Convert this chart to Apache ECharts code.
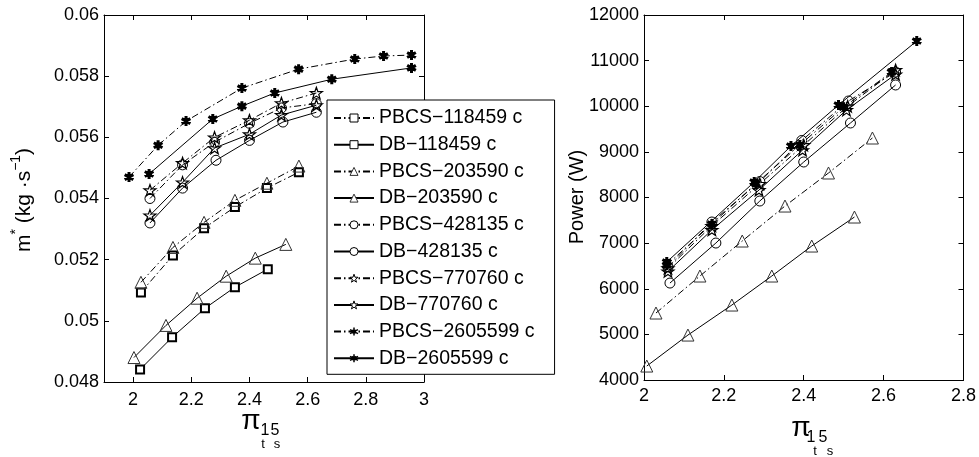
<!DOCTYPE html>
<html>
<head>
<meta charset="utf-8">
<script src="https://cdn.jsdelivr.net/npm/echarts@6/dist/echarts.min.js"></script>
<style>
  html, body { margin: 0; padding: 0; background: #fff; }
  #chart { width: 979px; height: 457px; }
</style>
</head>
<body>
<div id="chart"></div>
<script>
// series names (legend)
var names = ['PBCS\u2212118459 c', 'DB\u2212118459 c', 'PBCS\u2212203590 c', 'DB\u2212203590 c',
             'PBCS\u2212428135 c', 'DB\u2212428135 c', 'PBCS\u2212770760 c', 'DB\u2212770760 c',
             'PBCS\u22122605599 c', 'DB\u22122605599 c'];

// left panel: [pi_ts, m* (kg/s)]
var mPBCS118459 = [[2.027, 0.05093], [2.137, 0.05214], [2.244, 0.05303], [2.35, 0.05372], [2.46, 0.05434], [2.57, 0.05486]];
var mDB118459 = [[2.024, 0.04841], [2.134, 0.04946], [2.247, 0.05041], [2.35, 0.0511], [2.463, 0.05169]];
var mPBCS203590 = [[2.027, 0.05126], [2.137, 0.0524], [2.244, 0.05322], [2.35, 0.05394], [2.46, 0.0545], [2.57, 0.05506]];
var mDB203590 = [[2.003, 0.0488], [2.113, 0.04985], [2.22, 0.05074], [2.32, 0.05146], [2.42, 0.05205], [2.525, 0.0525]];
var mPBCS428135 = [[2.058, 0.0540], [2.17, 0.0551], [2.28, 0.05584], [2.40, 0.05646], [2.51, 0.05696], [2.63, 0.0571]];
var mDB428135 = [[2.058, 0.0532], [2.17, 0.05434], [2.285, 0.05525], [2.40, 0.0559], [2.515, 0.0565], [2.63, 0.05682]];
var mPBCS770760 = [[2.058, 0.05427], [2.17, 0.05516], [2.28, 0.0560], [2.40, 0.05656], [2.51, 0.05712], [2.63, 0.05745]];
var mDB770760 = [[2.058, 0.05345], [2.17, 0.05453], [2.28, 0.05565], [2.40, 0.0561], [2.51, 0.05673], [2.63, 0.05705]];
var mPBCS2605599 = [[1.986, 0.0547], [2.086, 0.05574], [2.182, 0.05653], [2.374, 0.05761], [2.569, 0.05823], [2.762, 0.05856], [2.861, 0.05866], [2.957, 0.05869]];
var mDB2605599 = [[2.055, 0.0548], [2.274, 0.0566], [2.374, 0.05702], [2.487, 0.05745], [2.683, 0.0579], [2.957, 0.05827]];

// right panel: [pi_ts, power (W)]
var pPBCS203590 = [[2.03, 5468], [2.14, 6279], [2.246, 7046], [2.353, 7813], [2.462, 8537], [2.572, 9304]];
var pDB203590 = [[2.007, 4306], [2.11, 4985], [2.22, 5643], [2.32, 6279], [2.42, 6936], [2.527, 7572]];
var pPBCS428135 = [[2.06, 6480], [2.17, 7463], [2.29, 8350], [2.395, 9250], [2.512, 10115], [2.63, 10750]];
var pDB428135 = [[2.065, 6125], [2.18, 7002], [2.29, 7923], [2.40, 8778], [2.517, 9633], [2.63, 10466]];
var pPBCS770760 = [[2.06, 6450], [2.17, 7380], [2.29, 8300], [2.40, 9150], [2.51, 10000], [2.63, 10795]];
var pDB770760 = [[2.06, 6380], [2.17, 7290], [2.288, 8164], [2.397, 9040], [2.507, 9918], [2.63, 10700]];
var pPBCS2605599 = [[2.057, 6520], [2.17, 7420], [2.28, 8300], [2.39, 9150], [2.50, 9980], [2.62, 10750]];
var pDB2605599 = [[2.057, 6586], [2.276, 8339], [2.368, 9128], [2.487, 10027], [2.683, 11430]];

// tick labels
var leftXTicks = [2, 2.2, 2.4, 2.6, 2.8, 3];
var rightXTicks = [2, 2.2, 2.4, 2.6, 2.8];

var DASHDOT = [7, 3, 1.5, 3];
var STAR = 'path://M0,-10L2.35,-3.24L9.51,-3.09L3.8,1.24L5.88,8.09L0,4L-5.88,8.09L-3.8,1.24L-9.51,-3.09L-2.35,-3.24Z';
var ASTER = 'path://M0,-10L0,10M-8.66,-5L8.66,5M-8.66,5L8.66,-5M-3,-3L3,-3L3,3L-3,3Z';

var styles = {
    square:   { symbol: 'rect', symbolSize: 8, itemStyle: { color: '#fff', borderColor: '#000', borderWidth: 2 } },
    triangle: { symbol: 'triangle', symbolSize: 12, itemStyle: { color: 'rgba(255,255,255,0)', borderColor: '#333', borderWidth: 1 } },
    circle:   { symbol: 'circle', symbolSize: 10, itemStyle: { color: 'rgba(255,255,255,0)', borderColor: '#000', borderWidth: 1 } },
    star:     { symbol: STAR, symbolSize: 12, itemStyle: { color: 'rgba(255,255,255,0)', borderColor: '#000', borderWidth: 1.2 } },
    aster:    { symbol: ASTER, symbolSize: 10, itemStyle: { color: '#000', borderColor: '#000', borderWidth: 3 } }
};
var legendMarks = ['square', 'square', 'triangle', 'triangle', 'circle', 'circle', 'star', 'star', 'aster', 'aster'];

function mk(name, data, mark, dash, grid) {
    var s = styles[mark];
    return {
        name: name, type: 'line', data: data,
        xAxisIndex: grid, yAxisIndex: grid,
        symbol: s.symbol, symbolSize: s.symbolSize, symbolKeepAspect: true,
        itemStyle: s.itemStyle,
        lineStyle: { color: '#000', width: 1, type: dash ? DASHDOT : 'solid' },
        emphasis: { disabled: true },
        animation: false
    };
}

var tickFont = { fontFamily: 'Liberation Sans', fontSize: 18, color: '#000' };

function mainX(grid, min, max, ticks, margin) {
    return {
        type: 'value', gridIndex: grid, min: min, max: max, position: 'bottom',
        axisLine: { onZero: false, lineStyle: { color: '#000', width: 1 } },
        axisTick: { inside: true, length: 5, customValues: ticks, lineStyle: { color: '#000' } },
        axisLabel: Object.assign({ customValues: ticks, margin: margin, formatter: function (v) { return String(+v.toFixed(1)); } }, tickFont),
        splitLine: { show: false }
    };
}
function topX(grid, min, max, ticks) {
    return {
        type: 'value', gridIndex: grid, min: min, max: max, position: 'top',
        axisLine: { onZero: false, lineStyle: { color: '#000', width: 1 } },
        axisTick: { inside: true, length: 5, customValues: ticks, lineStyle: { color: '#000' } },
        axisLabel: { show: false }, splitLine: { show: false }
    };
}
function yAx(grid, min, max, interval, pos, showLabel, fmt) {
    return {
        type: 'value', gridIndex: grid, min: min, max: max, interval: interval, position: pos,
        axisLine: { show: true, onZero: false, lineStyle: { color: '#000', width: 1 } },
        axisTick: { show: true, inside: true, length: 5, lineStyle: { color: '#000' } },
        axisLabel: Object.assign({ show: showLabel, margin: 5, formatter: fmt }, tickFont),
        splitLine: { show: false }
    };
}
var mFmt = function (v) { return String(+v.toFixed(3)); };
var pFmt = function (v) { return String(Math.round(v)); };

var series = [
    mk(names[0], mPBCS118459, 'square', true, 0),
    mk(names[1], mDB118459, 'square', false, 0),
    mk(names[2], mPBCS203590, 'triangle', true, 0),
    mk(names[3], mDB203590, 'triangle', false, 0),
    mk(names[4], mPBCS428135, 'circle', true, 0),
    mk(names[5], mDB428135, 'circle', false, 0),
    mk(names[6], mPBCS770760, 'star', true, 0),
    mk(names[7], mDB770760, 'star', false, 0),
    mk(names[8], mPBCS2605599, 'aster', true, 0),
    mk(names[9], mDB2605599, 'aster', false, 0),
    mk(names[2], pPBCS203590, 'triangle', true, 1),
    mk(names[3], pDB203590, 'triangle', false, 1),
    mk(names[4], pPBCS428135, 'circle', true, 1),
    mk(names[5], pDB428135, 'circle', false, 1),
    mk(names[6], pPBCS770760, 'star', true, 1),
    mk(names[7], pDB770760, 'star', false, 1),
    mk(names[8], pPBCS2605599, 'aster', true, 1),
    mk(names[9], pDB2605599, 'aster', false, 1)
];

var legendData = names.map(function (n, i) {
    var m = legendMarks[i];
    return {
        name: n,
        itemStyle: m === 'aster'
            ? { color: '#000', borderColor: '#000', borderWidth: 1.5 }
            : { color: '#fff', borderColor: m === 'triangle' ? '#333' : '#000', borderWidth: 1 }
    };
});

var titleFont = 'Liberation Sans';
var option = {
    backgroundColor: '#fff',
    animation: false,
    grid: [
        { left: 104, top: 15, width: 320, height: 367 },
        { left: 644, top: 15, width: 322, height: 365 }
    ],
    xAxis: [
        mainX(0, 1.9, 3, leftXTicks, 9),
        mainX(1, 2, 2.8, rightXTicks, 7),
        topX(0, 1.9, 3, leftXTicks),
        topX(1, 2, 2.8, rightXTicks)
    ],
    yAxis: [
        yAx(0, 0.048, 0.06, 0.002, 'left', true, mFmt),
        yAx(1, 4000, 12000, 1000, 'left', true, pFmt),
        yAx(0, 0.048, 0.06, 0.002, 'right', false, mFmt),
        yAx(1, 4000, 12000, 1000, 'right', false, pFmt)
    ],
    legend: {
        data: legendData,
        orient: 'vertical',
        left: 327, top: 100,
        padding: [8, 20, 6, 6],
        itemWidth: 40, itemHeight: 10, itemGap: 6.7,
        backgroundColor: '#fff',
        borderColor: '#000', borderWidth: 1, borderRadius: 0,
        selectedMode: false,
        textStyle: { fontFamily: titleFont, fontSize: 19.5, color: '#000' }
    },
    graphic: [
        // left y title
        { type: 'text', x: 22, y: 200, rotation: Math.PI / 2,
          style: { text: '{a|m}{s|*}{a| (kg \u00b7s}{s|\u22121}{a|)}', align: 'center', verticalAlign: 'middle',
                   rich: { a: { fontFamily: titleFont, fontSize: 21, lineHeight: 26, verticalAlign: 'bottom', fill: '#000' },
                           s: { fontFamily: titleFont, fontSize: 14, lineHeight: 26, verticalAlign: 'top', fill: '#000' } } } },
        // right y title
        { type: 'text', x: 577, y: 197, rotation: Math.PI / 2,
          style: { text: 'Power (W)', align: 'center', verticalAlign: 'middle', font: '20px "Liberation Sans"', fill: '#000' } },
        // left x title
        { type: 'text', x: 251, y: 421, style: { text: '\u03c0', align: 'center', verticalAlign: 'middle', font: '28px "Liberation Sans"', fill: '#000' } },
        { type: 'text', x: 265, y: 431, style: { text: '1', align: 'center', verticalAlign: 'middle', font: '16px "Liberation Sans"', fill: '#000' } },
        { type: 'text', x: 275, y: 431, style: { text: '5', align: 'center', verticalAlign: 'middle', font: '16px "Liberation Sans"', fill: '#000' } },
        { type: 'text', x: 263, y: 444, style: { text: 't', align: 'center', verticalAlign: 'middle', font: '13px "Liberation Sans"', fill: '#000' } },
        { type: 'text', x: 277, y: 444, style: { text: 's', align: 'center', verticalAlign: 'middle', font: '13px "Liberation Sans"', fill: '#000' } },
        // right x title
        { type: 'text', x: 801, y: 428, style: { text: '\u03c0', align: 'center', verticalAlign: 'middle', font: '28px "Liberation Sans"', fill: '#000' } },
        { type: 'text', x: 811, y: 438, style: { text: '1', align: 'center', verticalAlign: 'middle', font: '16px "Liberation Sans"', fill: '#000' } },
        { type: 'text', x: 823, y: 438, style: { text: '5', align: 'center', verticalAlign: 'middle', font: '16px "Liberation Sans"', fill: '#000' } },
        { type: 'text', x: 815, y: 451, style: { text: 't', align: 'center', verticalAlign: 'middle', font: '13px "Liberation Sans"', fill: '#000' } },
        { type: 'text', x: 830, y: 451, style: { text: 's', align: 'center', verticalAlign: 'middle', font: '13px "Liberation Sans"', fill: '#000' } }
    ],
    series: series
};

var myChart = echarts.init(document.getElementById('chart'), null, { renderer: 'canvas' });
myChart.setOption(option);
</script>
</body>
</html>
